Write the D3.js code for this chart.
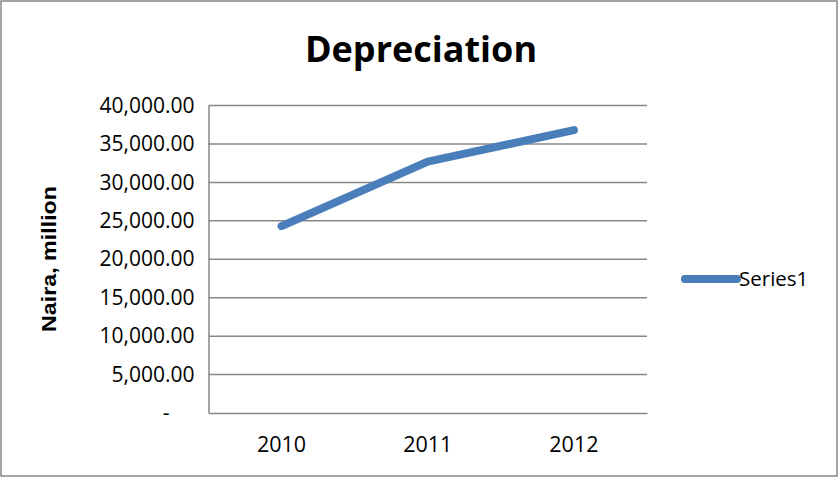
<!DOCTYPE html>
<html><head><meta charset="utf-8">
<script src="https://cdn.jsdelivr.net/npm/d3@7"></script>
<style>body{margin:0;background:#fff}svg{display:block}</style>
</head><body>
<script>
const categories = ["2010", "2011", "2012"];
const values = [24300, 32700, 36800];
const yTicks = [0, 5000, 10000, 15000, 20000, 25000, 30000, 35000, 40000];
const seriesName = "Series1";
const title = "Depreciation";
const yTitle = "Naira, million";

const W = 838, H = 477;
const m = {left: 208.5, right: 647, top: 105.5, bottom: 413};
const svg = d3.select("body").append("svg").attr("width", W).attr("height", H);
svg.append("rect").attr("x", 1).attr("y", 1).attr("width", W - 2).attr("height", H - 2)
  .attr("fill", "#fff").attr("stroke", "#878787").attr("stroke-width", 1.5);

const x = d3.scaleBand().domain(categories).range([m.left, m.right]);
const y = d3.scaleLinear().domain([0, 40000]).range([m.bottom, m.top]);

// gridlines
svg.append("g").selectAll("line").data(yTicks.filter(d => d > 0)).join("line")
  .attr("x1", m.left).attr("x2", m.right).attr("y1", d => y(d)).attr("y2", d => y(d))
  .attr("stroke", "#878787").attr("stroke-width", 1.5);

const fmt = d3.format(",.2f");
const yAxis = svg.append("g").attr("transform", `translate(${m.left},0)`)
  .call(d3.axisLeft(y).tickValues(yTicks).tickSize(0).tickPadding(14)
    .tickFormat(d => d === 0 ? "-" : fmt(d)));
yAxis.select(".domain").attr("stroke", "#878787").attr("stroke-width", 1.5);
yAxis.selectAll("text").attr("font-family", "Open Sans").attr("font-size", 21).attr("fill", "#000")
  .attr("dy", "0.32em")
  .attr("dx", d => d === 0 ? -25 : 0);

const xAxis = svg.append("g").attr("transform", `translate(0,${m.bottom})`)
  .call(d3.axisBottom(x).tickSize(0).tickPadding(24));
xAxis.select(".domain").attr("stroke", "#878787").attr("stroke-width", 1.5);
xAxis.selectAll("text").attr("font-family", "Open Sans").attr("font-size", 21.5).attr("fill", "#000");

// line
const line = d3.line().x((d, i) => x(categories[i]) + x.bandwidth() / 2).y(d => y(d));
svg.append("path").datum(values).attr("d", line).attr("fill", "none")
  .attr("stroke", "#4a7ebb").attr("stroke-width", 8).attr("stroke-linecap", "round").attr("stroke-linejoin", "round");

// title
svg.append("text").attr("x", 421).attr("y", 62).attr("text-anchor", "middle")
  .attr("font-family", "Open Sans").attr("font-weight", "bold").attr("font-size", 36).text(title);

// y title
svg.append("text").attr("transform", "translate(56,259) rotate(-90)").attr("text-anchor", "middle")
  .attr("font-family", "Liberation Sans").attr("font-weight", "bold").attr("font-size", 20)
  .attr("textLength", 146).attr("lengthAdjust", "spacingAndGlyphs").text(yTitle);

// legend
svg.append("line").attr("x1", 685).attr("x2", 737).attr("y1", 279).attr("y2", 279)
  .attr("stroke", "#4a7ebb").attr("stroke-width", 8).attr("stroke-linecap", "round");
svg.append("text").attr("x", 739).attr("y", 279).attr("dy", "0.35em")
  .attr("font-family", "Open Sans").attr("font-size", 20.5).text(seriesName);
</script>
</body></html>
